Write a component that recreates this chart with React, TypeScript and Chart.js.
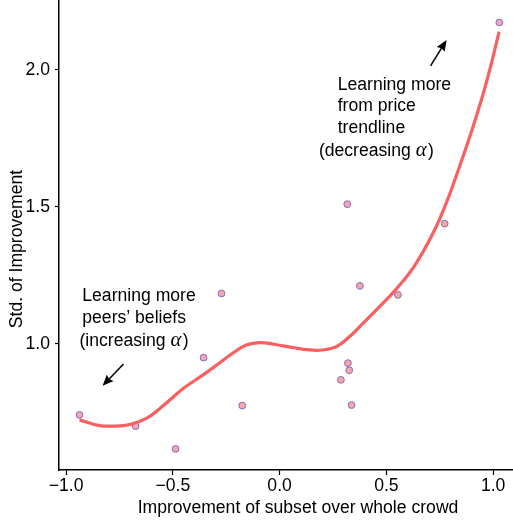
import { useEffect, useRef } from "react";
import { Chart, registerables } from "chart.js";

Chart.register(...registerables);

// ---- data ----
const pointX = [-0.937, -0.674, -0.487, -0.356, -0.272, -0.175, 0.317, 0.32, 0.326, 0.287, 0.337, 0.376, 0.554, 0.773, 1.029];
const pointY = [0.741, 0.7, 0.617, 0.95, 1.184, 0.775, 1.51, 0.93, 0.904, 0.869, 0.777, 1.212, 1.179, 1.439, 2.173];

const trendX = [-0.937, -0.85, -0.78, -0.7, -0.62, -0.54, -0.45, -0.36, -0.3, -0.22, -0.156, -0.094, -0.02, 0.06, 0.14, 0.2, 0.266, 0.328, 0.375, 0.468, 0.546, 0.64, 0.749, 0.859, 0.937, 0.984, 1.028];
const trendY = [0.723, 0.703, 0.7, 0.706, 0.73, 0.778, 0.838, 0.886, 0.92, 0.966, 0.996, 1.005, 0.998, 0.987, 0.978, 0.978, 0.99, 1.027, 1.063, 1.136, 1.2, 1.295, 1.455, 1.684, 1.87, 2.0, 2.14];

const xTicks = [-1.0, -0.5, 0.0, 0.5, 1.0];
const yTicks = [1.0, 1.5, 2.0];

const xTitle = "Improvement of subset over whole crowd";
const yTitle = "Std. of Improvement";

const leftNoteLines = ["Learning more", "peers\u2019 beliefs", "(increasing |\u03B1|)"];
const topNoteLines = ["Learning more", "from price", "trendline", "(decreasing |\u03B1|)"];

// ---- layout / annotation placement (data units) ----
const leftNotePos = [
  [-0.924, 1.173],
  [-0.924, 1.094],
  [-0.937, 1.012],
];
const topNotePos = [
  [0.272, 1.945],
  [0.272, 1.869],
  [0.272, 1.789],
  [0.184, 1.704],
];
const arrows = [
  { from: [-0.731, 0.927], to: [-0.829, 0.847] },
  { from: [0.707, 2.015], to: [0.782, 2.109] },
];

const SANS = '"Liberation Sans", Arial, Helvetica, sans-serif';
const FONT_SIZE = 17.6;

const fmt = (v: number) => v.toFixed(1).replace("-", "\u2212");

function drawRichLine(ctx: CanvasRenderingContext2D, text: string, x: number, y: number) {
  const parts = text.split("|");
  let cx = x;
  parts.forEach((p, i) => {
    if (!p) return;
    if (i % 2 === 1) {
      ctx.font = `italic ${FONT_SIZE + 3}px "Liberation Serif", "DejaVu Serif", serif`;
    } else {
      ctx.font = `${FONT_SIZE}px ${SANS}`;
    }
    ctx.fillText(p, cx, y);
    cx += ctx.measureText(p).width + (i % 2 === 1 ? 1.5 : 0);
  });
}

const annotationPlugin = {
  id: "notes",
  afterDraw(chart: any) {
    const { ctx, scales } = chart;
    const xs = scales.x;
    const ys = scales.y;
    ctx.save();
    ctx.fillStyle = "#000";
    ctx.textBaseline = "middle";
    ctx.textAlign = "left";
    leftNoteLines.forEach((t, i) => {
      drawRichLine(ctx, t, xs.getPixelForValue(leftNotePos[i][0]), ys.getPixelForValue(leftNotePos[i][1]));
    });
    topNoteLines.forEach((t, i) => {
      drawRichLine(ctx, t, xs.getPixelForValue(topNotePos[i][0]), ys.getPixelForValue(topNotePos[i][1]));
    });

    // arrows
    ctx.strokeStyle = "#000";
    ctx.lineWidth = 1.5;
    arrows.forEach((a) => {
      const x1 = xs.getPixelForValue(a.from[0]);
      const y1 = ys.getPixelForValue(a.from[1]);
      const x2 = xs.getPixelForValue(a.to[0]);
      const y2 = ys.getPixelForValue(a.to[1]);
      const ang = Math.atan2(y2 - y1, x2 - x1);
      const head = 12;
      const spread = 0.4;
      const bx = x2 - head * 0.8 * Math.cos(ang);
      const by = y2 - head * 0.8 * Math.sin(ang);
      ctx.beginPath();
      ctx.moveTo(x1, y1);
      ctx.lineTo(bx, by);
      ctx.stroke();
      ctx.beginPath();
      ctx.moveTo(x2, y2);
      ctx.lineTo(x2 - head * Math.cos(ang - spread), y2 - head * Math.sin(ang - spread));
      ctx.lineTo(bx, by);
      ctx.lineTo(x2 - head * Math.cos(ang + spread), y2 - head * Math.sin(ang + spread));
      ctx.closePath();
      ctx.fill();
    });

    // axis titles
    ctx.font = `${FONT_SIZE}px ${SANS}`;
    ctx.textAlign = "center";
    ctx.fillText(xTitle, 298, 508);
    ctx.translate(17, 249);
    ctx.rotate(-Math.PI / 2);
    ctx.fillText(yTitle, 0, 0);
    ctx.restore();
  },
};

export default function App() {
  const ref = useRef<HTMLCanvasElement | null>(null);

  useEffect(() => {
    if (!ref.current) return;
    const chart = new Chart(ref.current, {
      type: "scatter",
      data: {
        datasets: [
          {
            type: "line",
            label: "trend",
            data: trendX.map((x, i) => ({ x, y: trendY[i] })),
            borderColor: "rgb(250, 96, 96)",
            borderWidth: 3.2,
            pointRadius: 0,
            fill: false,
            tension: 0.4,
          } as any,
          {
            type: "scatter",
            label: "points",
            data: pointX.map((x, i) => ({ x, y: pointY[i] })),
            backgroundColor: "rgb(245, 166, 170)",
            borderColor: "rgb(132, 108, 192)",
            borderWidth: 1,
            pointRadius: 3.4,
          },
        ],
      },
      options: {
        animation: false,
        responsive: false,
        maintainAspectRatio: false,
        layout: { padding: 0, autoPadding: false },
        plugins: {
          legend: { display: false },
          tooltip: { enabled: false },
          title: { display: false },
        },
        scales: {
          x: {
            type: "linear",
            min: -1.033,
            max: 1.093,
            afterBuildTicks: (s: any) => {
              s.ticks = xTicks.map((v) => ({ value: v }));
            },
            afterFit: (s: any) => {
              s.height = 54;
              s.paddingLeft = 0;
              s.paddingRight = 0;
            },
            ticks: {
              callback: (v: any) => fmt(Number(v)),
              color: "#000",
              font: { family: SANS, size: FONT_SIZE },
              padding: 1,
              maxRotation: 0,
              autoSkip: false,
            },
            grid: {
              drawOnChartArea: false,
              drawTicks: true,
              tickLength: 5,
              tickColor: "#000",
              tickWidth: 1.2,
            },
            border: { display: true, color: "#000", width: 1.5 },
          },
          y: {
            type: "linear",
            min: 0.54,
            max: 2.255,
            afterBuildTicks: (s: any) => {
              s.ticks = yTicks.map((v) => ({ value: v }));
            },
            afterFit: (s: any) => {
              s.width = 59;
              s.paddingTop = 0;
              s.paddingBottom = 0;
            },
            ticks: {
              callback: (v: any) => fmt(Number(v)),
              color: "#000",
              font: { family: SANS, size: FONT_SIZE },
              padding: 5,
              autoSkip: false,
            },
            grid: {
              drawOnChartArea: false,
              drawTicks: true,
              tickLength: 4,
              tickColor: "#000",
              tickWidth: 1.2,
            },
            border: { display: true, color: "#000", width: 1.5 },
          },
        },
      },
      plugins: [annotationPlugin],
    });
    return () => chart.destroy();
  }, []);

  return (
    <div style={{ position: "fixed", left: 0, top: 0, width: 513, height: 524, background: "#fff" }}>
      <canvas ref={ref} width={513} height={524} style={{ width: 513, height: 524, display: "block" }} />
    </div>
  );
}
